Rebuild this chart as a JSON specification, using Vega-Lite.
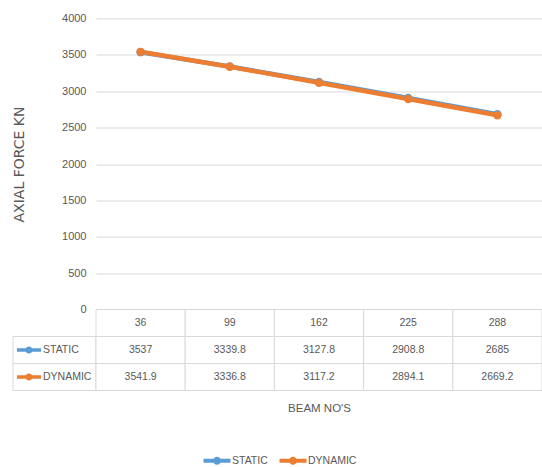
{
  "$schema": "https://vega.github.io/schema/vega-lite/v6.json",
  "autosize": {"type": "pad"},
  "padding": {"left": 12, "top": 12.5, "right": 0, "bottom": 0},
  "background": "white",
  "config": {
    "font": "Liberation Sans",
    "view": {"stroke": null},
    "concat": {"spacing": 0}
  },
  "datasets": {
    "force": [
      {"beam": 36, "series": "STATIC", "value": 3537},
      {"beam": 99, "series": "STATIC", "value": 3339.8},
      {"beam": 162, "series": "STATIC", "value": 3127.8},
      {"beam": 225, "series": "STATIC", "value": 2908.8},
      {"beam": 288, "series": "STATIC", "value": 2685},
      {"beam": 36, "series": "DYNAMIC", "value": 3541.9},
      {"beam": 99, "series": "DYNAMIC", "value": 3336.8},
      {"beam": 162, "series": "DYNAMIC", "value": 3117.2},
      {"beam": 225, "series": "DYNAMIC", "value": 2894.1},
      {"beam": 288, "series": "DYNAMIC", "value": 2669.2}
    ]
  },
  "columns": 2,
  "spacing": 0,
  "bounds": "flush",
  "align": "each",
  "concat": [
    {
      "width": 83,
      "height": 291,
      "data": {"values": []},
      "mark": "text",
      "encoding": {}
    },
    {
      "width": 446,
      "height": 291,
      "data": {"name": "force"},
      "encoding": {
        "x": {"field": "beam", "type": "ordinal", "scale": {"type": "point", "padding": 0.5}, "axis": null},
        "y": {
          "field": "value",
          "type": "quantitative",
          "scale": {"domain": [0, 4000]},
          "axis": {
            "values": [0, 500, 1000, 1500, 2000, 2500, 3000, 3500, 4000],
            "format": "d",
            "title": "AXIAL FORCE KN",
            "grid": true,
            "gridColor": "#d9d9d9",
            "gridWidth": 1,
            "domain": false,
            "ticks": false,
            "labelPadding": 10,
            "labelFontSize": 11,
            "labelColor": "#595959",
            "titleFont": "DejaVu Sans",
            "titleFontSize": 14,
            "titleFontWeight": "normal",
            "titleColor": "#595959",
            "titlePadding": 35.5
          }
        },
        "color": {
          "field": "series",
          "type": "nominal",
          "scale": {"domain": ["STATIC", "DYNAMIC"], "range": ["#5B9BD5", "#ED7D31"]},
          "legend": {
            "orient": "none",
            "legendX": 198,
            "legendY": 436,
            "direction": "horizontal",
            "title": null,
            "padding": 0,
            "symbolType": "M-2.25,-0.33L2.25,-0.33L2.25,0.33L-2.25,0.33Z M0.67,0A0.67,0.67 0 1,1 -0.67,0A0.67,0.67 0 1,1 0.67,0Z",
            "symbolSize": 144,
            "labelFontSize": 10.5,
            "labelColor": "#595959",
            "labelOffset": 9,
            "columnPadding": 11,
            "encode": {
              "symbols": {
                "update": {
                  "fill": {"scale": "color", "field": "value"},
                  "fillOpacity": {"value": 1},
                  "stroke": {"value": "transparent"},
                  "strokeWidth": {"value": 0}
                }
              }
            }
          }
        }
      },
      "layer": [
        {"mark": {"type": "line", "strokeWidth": 4.5}},
        {"mark": {"type": "point", "filled": true, "size": 70, "opacity": 1}}
      ]
    },
    {
      "width": 83,
      "height": 81,
      "data": {"name": "force"},
      "transform": [{"filter": "datum.beam === 36"}],
      "encoding": {
        "y": {
          "field": "series",
          "type": "nominal",
          "scale": {"domain": ["H", "STATIC", "DYNAMIC"], "paddingInner": 0, "paddingOuter": 0},
          "axis": null
        }
      },
      "layer": [
        {
          "mark": {"type": "rect", "fill": "white", "stroke": "#d9d9d9", "strokeWidth": 1},
          "encoding": {"x": {"value": 0}, "x2": {"value": "width"}}
        },
        {
          "mark": {
            "type": "point",
            "shape": "M-2.25,-0.33L2.25,-0.33L2.25,0.33L-2.25,0.33Z M0.67,0A0.67,0.67 0 1,1 -0.67,0A0.67,0.67 0 1,1 0.67,0Z",
            "size": 115,
            "filled": true,
            "opacity": 1
          },
          "encoding": {
            "x": {"value": 16},
            "color": {"field": "series", "type": "nominal"}
          }
        },
        {
          "mark": {"type": "text", "align": "left", "fontSize": 10.5, "color": "#595959"},
          "encoding": {
            "x": {"value": 30},
            "text": {"field": "series", "type": "nominal"}
          }
        }
      ]
    },
    {
      "width": 446,
      "height": 81,
      "encoding": {
        "x": {
          "field": "beam",
          "type": "ordinal",
          "scale": {"type": "band", "paddingInner": 0, "paddingOuter": 0},
          "axis": {
            "title": "BEAM NO'S",
            "labels": false,
            "ticks": false,
            "domain": false,
            "grid": false,
            "titlePadding": 12,
            "titleFontSize": 11.5,
            "titleFontWeight": "normal",
            "titleColor": "#595959"
          }
        }
      },
      "layer": [
        {
          "data": {"name": "force"},
          "mark": {"type": "rect", "fill": "white", "stroke": "#d9d9d9", "strokeWidth": 1},
          "encoding": {
            "y": {
              "field": "series",
              "type": "nominal",
              "scale": {"domain": ["H", "STATIC", "DYNAMIC"], "paddingInner": 0, "paddingOuter": 0},
              "axis": null
            }
          }
        },
        {
          "data": {"name": "force"},
          "mark": {"type": "text", "fontSize": 10.5, "color": "#595959"},
          "encoding": {
            "y": {"field": "series", "type": "nominal"},
            "text": {"field": "value", "type": "nominal"}
          }
        },
        {
          "data": {"name": "force"},
          "transform": [{"filter": "datum.series === 'STATIC'"}],
          "mark": {"type": "rect", "fill": "white", "stroke": "#d9d9d9", "strokeWidth": 1},
          "encoding": {"y": {"datum": "H", "type": "nominal"}}
        },
        {
          "data": {"name": "force"},
          "transform": [{"filter": "datum.series === 'STATIC'"}],
          "mark": {"type": "text", "fontSize": 10.5, "color": "#595959"},
          "encoding": {
            "y": {"datum": "H", "type": "nominal"},
            "text": {"field": "beam", "type": "nominal"}
          }
        }
      ]
    }
  ]
}
